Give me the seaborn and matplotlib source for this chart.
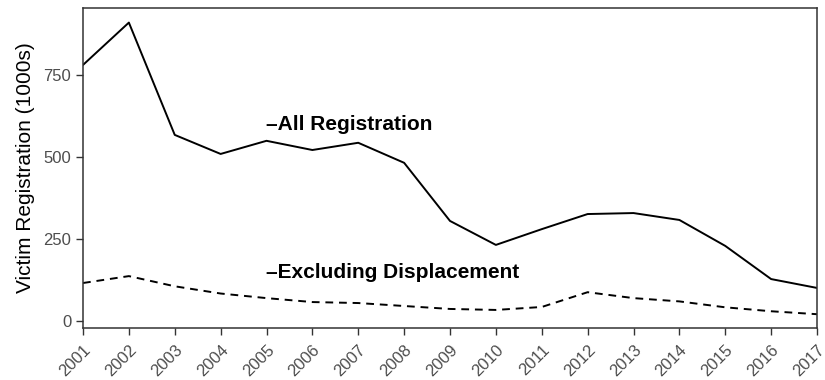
import matplotlib
matplotlib.use("Agg")
import matplotlib.pyplot as plt
import seaborn as sns
import pandas as pd

years = list(range(2001, 2018))
all_registration = [780, 909, 567, 509, 549, 521, 543, 482, 305, 232, 280, 326, 329, 308, 229, 128, 101]
excluding_displacement = [116, 137, 106, 84, 70, 58, 55, 46, 37, 34, 43, 88, 70, 60, 42, 30, 21]
y_ticks = [0, 250, 500, 750]

df = pd.DataFrame({
    "year": years * 2,
    "value": all_registration + excluding_displacement,
    "series": ["All Registration"] * len(years) + ["Excluding Displacement"] * len(years),
})

sns.set_theme(style="ticks")
plt.rcParams["font.family"] = ["Liberation Sans", "DejaVu Sans"]

fig = plt.figure(figsize=(8.25, 3.8), dpi=100)
ax = fig.add_axes([83 / 825, 1 - 328 / 380, (817 - 83) / 825, (328 - 8) / 380])

sns.lineplot(data=df, x="year", y="value", style="series", color="black",
             dashes={"All Registration": "", "Excluding Displacement": (4, 3)},
             linewidth=1.4, legend=False, ax=ax)

ax.set_xlim(years[0], years[-1])
hi = max(all_registration)
pad = (hi - min(excluding_displacement)) * 0.05
ax.set_ylim(-21, hi + pad)
ax.set_xticks(years)
ax.set_xticklabels([str(y) for y in years], rotation=45, ha="right",
                   rotation_mode="anchor", color="#4D4D4D", fontsize=12)
ax.set_yticks(y_ticks)
ax.set_yticklabels([str(v) for v in y_ticks], color="#4D4D4D", fontsize=12)
ax.tick_params(axis="both", color="#333333", length=5, width=1)
ax.tick_params(axis="x", pad=5)
ax.set_xlabel("")
ax.set_ylabel("Victim Registration (1000s)", fontsize=15, color="black", labelpad=6)

for side in ["top", "right", "left", "bottom"]:
    ax.spines[side].set_visible(True)
    ax.spines[side].set_color("#333333")
    ax.spines[side].set_linewidth(1.1)

ax.text(2005, 600, "\u2013All Registration", fontsize=15, fontweight="bold",
        ha="left", va="center", color="black")
ax.text(2005, 149, "\u2013Excluding Displacement", fontsize=15, fontweight="bold",
        ha="left", va="center", color="black")

fig.savefig("out.png", dpi=100)
